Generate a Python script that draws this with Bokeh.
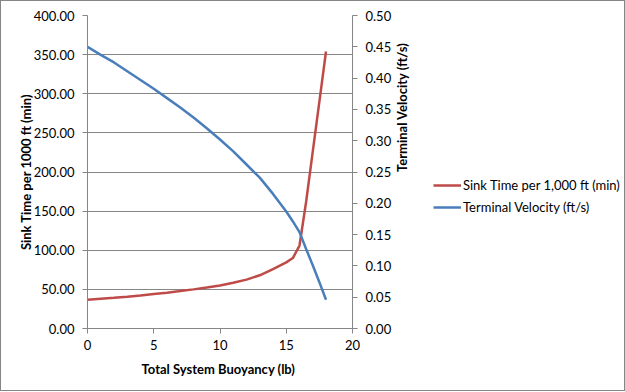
import math
from bokeh.plotting import figure
from bokeh.layouts import row
from bokeh.models import Range1d, LinearAxis, FixedTicker, PrintfTickFormatter, Legend, LegendItem
from bokeh.embed import file_html
from bokeh.resources import INLINE

buoyancy = [0, 1, 2, 3, 4, 5, 6, 7, 8, 9, 10, 11, 12, 13, 14, 15, 15.5, 16, 16.5, 17, 17.5, 18]
sink_time = [36.7, 38.0, 39.3, 40.7, 42.2, 44.0, 45.8, 47.8, 50.0, 52.4, 55.0, 58.5, 62.5,
             68.0, 76.0, 84.5, 90.0, 106.0, 162.0, 226.0, 290.0, 354.0]
velocity = [0.450, 0.437, 0.425, 0.411, 0.397, 0.383, 0.368, 0.353, 0.337, 0.320, 0.302,
            0.283, 0.262, 0.241, 0.215, 0.187, 0.171, 0.154, 0.127, 0.101, 0.074, 0.046]

x_ticks = [0, 5, 10, 15, 20]
left_ticks = [0, 50, 100, 150, 200, 250, 300, 350, 400]
right_ticks = [0, 0.05, 0.10, 0.15, 0.20, 0.25, 0.30, 0.35, 0.40, 0.45, 0.50]

FONT = "Lato"
GRAY = "#868686"
TXT = "#000000"
RED = "#BE4B48"
BLUE = "#4A7EBB"

p = figure(width=420, height=389, output_backend="svg", toolbar_location=None,
           x_range=Range1d(0, 20), y_range=Range1d(0, 400),
           min_border_left=86, min_border_right=67, min_border_top=14, min_border_bottom=62)
p.outline_line_color = None
p.background_fill_color = "white"
p.border_fill_color = "white"
p.xgrid.visible = False
p.ygrid.grid_line_color = GRAY
p.ygrid.grid_line_width = 1
p.ygrid.ticker = FixedTicker(ticks=left_ticks)

p.extra_y_ranges = {"vel": Range1d(0, 0.5)}

def style(ax):
    ax.axis_line_color = GRAY
    ax.major_tick_line_color = GRAY
    ax.minor_tick_line_color = None
    ax.major_tick_in = 0
    ax.major_tick_out = 5
    ax.major_label_text_font = FONT
    ax.major_label_text_font_size = "13px"
    ax.major_label_text_color = TXT
    ax.axis_label_text_font = FONT
    ax.axis_label_text_font_size = "13px"
    ax.axis_label_text_font_style = "bold"
    ax.axis_label_text_color = "black"

xa = p.xaxis[0]
style(xa)
xa.ticker = FixedTicker(ticks=x_ticks)
xa.axis_label = "Total System Buoyancy  (lb)"
xa.major_label_standoff = 6
xa.axis_label_standoff = 8

ya = p.yaxis[0]
style(ya)
ya.ticker = FixedTicker(ticks=left_ticks)
ya.formatter = PrintfTickFormatter(format="%.2f")
ya.axis_label = "Sink Time per 1000 ft (min)"
ya.major_label_standoff = 8
ya.axis_label_standoff = -3

ra = LinearAxis(y_range_name="vel", ticker=FixedTicker(ticks=right_ticks),
                formatter=PrintfTickFormatter(format="%.2f"),
                axis_label="Terminal Velocity (ft/s)")
style(ra)
ra.major_label_standoff = 8
ra.axis_label_standoff = 8
ra.axis_label_orientation = math.pi / 2
p.add_layout(ra, "right")

p.line(buoyancy, sink_time, line_color=RED, line_width=2.5)
p.line(buoyancy, velocity, line_color=BLUE, line_width=2.5, y_range_name="vel")

# legend panel: same series, drawn in a figure whose view is empty, only the legend shows
lg = figure(width=203, height=389, output_backend="svg", toolbar_location=None,
            x_range=Range1d(100, 101), y_range=Range1d(100, 101),
            min_border=0)
lg.axis.visible = False
lg.grid.visible = False
lg.outline_line_color = None
lg.background_fill_color = "white"
lg.border_fill_color = "white"
l1 = lg.line(buoyancy, sink_time, line_color=RED, line_width=2.5)
l2 = lg.line(buoyancy, velocity, line_color=BLUE, line_width=2.5)

legend = Legend(items=[LegendItem(label="Sink Time per 1,000 ft (min)", renderers=[l1]),
                       LegendItem(label="Terminal Velocity (ft/s)", renderers=[l2])],
                location=(12, 111))
legend.border_line_color = None
legend.background_fill_alpha = 0
legend.label_text_font = FONT
legend.label_text_font_size = "13px"
legend.label_text_color = TXT
legend.glyph_width = 28
legend.glyph_height = 20
legend.label_height = 20
legend.label_standoff = 2
legend.spacing = 2
legend.padding = 0
legend.margin = 0
lg.add_layout(legend, "center")

layout = row(p, lg, styles={"border": "1px solid #868686"})
open("out.html", "w").write(file_html(layout, INLINE))
